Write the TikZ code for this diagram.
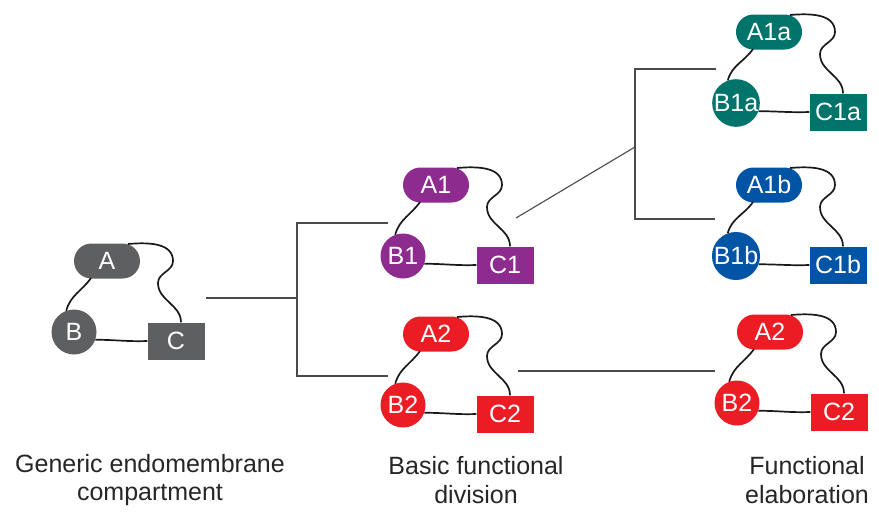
\documentclass[tikz,border=0pt]{standalone}
\usepackage{fontspec}
\setmainfont{Liberation Sans}
\usetikzlibrary{calc,shapes.misc}
\definecolor{cgray}{HTML}{5E5F61}
\definecolor{cpurple}{HTML}{8E2B8E}
\definecolor{cred}{HTML}{EC1C24}
\definecolor{cteal}{HTML}{00736A}
\definecolor{cblue}{HTML}{0054A5}
\definecolor{clink}{HTML}{4A4A4A}
\newcommand\nodfnt{\fontsize{25}{25}\selectfont}
\newcommand\capfnt{\fontsize{25}{28.5}\selectfont}
\tikzset{
  pill/.style={rounded rectangle, fill=#1, text=white, minimum width=66pt, minimum height=35pt, inner sep=0pt, font=\nodfnt},
  ball/.style={circle, fill=#1, text=white, minimum size=45pt, inner sep=0pt, font=\nodfnt},
  box/.style={rectangle, fill=#1, text=white, minimum width=57pt, minimum height=37pt, inner sep=0pt, font=\nodfnt},
  wire/.style={draw=black!90, line width=1.7pt},
  link/.style={draw=clink, line width=1.1pt},
  caption/.style={align=center, font=\capfnt, text=black!85}
}
\newcommand\motif[7]{%
  \node[pill=#4] (#1A) at (#2,#3) {#5};
  \node[ball=#4] (#1B) at ($(#1A)+(-33,-71)$) {#6};
  \node[box=#4] (#1C) at ($(#1A)+(69,-80)$) {#7};
  \draw[wire] ($(#1A)+(21,17)$) to[out=5,in=90] ($(#1A)+(66,0)$)
     to[out=270,in=90] ($(#1A)+(51,-22)$) to[out=270,in=90] ($(#1C.north)+(5,0)$);
  \draw[wire] ($(#1A)+(-16,-17)$) to[out=235,in=75] (#1B.110);
  \draw[wire] (#1B.-20) to[out=0,in=182] (#1C.west);
}
\begin{document}
\begin{tikzpicture}[x=1pt,y=1pt]
\useasboundingbox (0,0) rectangle (879,-512);
\motif{g}{107}{-261}{cgray}{A}{B}{C}
\motif{p}{436}{-185}{cpurple}{A1}{B1}{C1}
\motif{r}{436}{-334}{cred}{A2}{B2}{C2}
\motif{t}{769}{-32}{cteal}{A1a}{B1a}{C1a}
\motif{b}{769}{-185}{cblue}{A1b}{B1b}{C1b}
\motif{q}{770}{-332}{cred}{A2}{B2}{C2}
% connectors
\coordinate (s1) at (206,-298);
\coordinate (j1) at (297,-298);
\coordinate (j1t) at (297,-223);
\coordinate (j1b) at (297,-376);
\coordinate (e1t) at (388,-223);
\coordinate (e1b) at (388,-376);
\draw[link] (s1) -- (j1);
\draw[link] (e1t) -- (j1t) -- (j1b) -- (e1b);
\coordinate (s2) at (516,-218);
\coordinate (j2) at (635,-147);
\coordinate (j2t) at (635,-69);
\coordinate (j2b) at (635,-219);
\coordinate (e2t) at (716,-69);
\coordinate (e2b) at (715,-219);
\draw[link] (s2) -- (j2);
\draw[link] (e2t) -- (j2t) -- (j2b) -- (e2b);
\coordinate (s3) at (518,-371);
\coordinate (e3) at (715,-371);
\draw[link] (s3) -- (e3);
% captions
\node[caption] (cap1) at (150,-480) {Generic endomembrane\\compartment};
\node[caption] (cap2) at (476,-480) {Basic functional\\division};
\node[caption] (cap3) at (807,-480) {Functional\\elaboration};
\end{tikzpicture}
\end{document}
